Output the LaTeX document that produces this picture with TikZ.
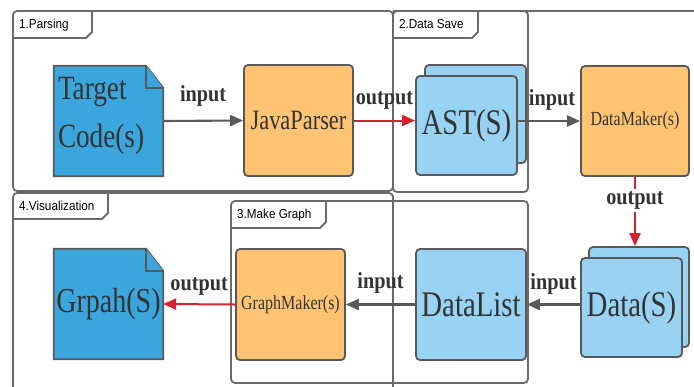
\documentclass[tikz,border=0pt]{standalone}
\usepackage{fontspec}
\usetikzlibrary{arrows.meta,calc,backgrounds}
\newfontfamily\condserif[FakeStretch=0.8]{Liberation Serif}
\newfontfamily\labelserif[FakeStretch=0.88]{Liberation Serif}
\newfontfamily\tabsans[FakeStretch=0.9]{Liberation Sans}
\definecolor{docblue}{HTML}{3AA6DD}
\definecolor{lightblue}{HTML}{99D3F3}
\definecolor{procorange}{HTML}{FFC473}
\definecolor{edgegray}{HTML}{595959}
\definecolor{framegray}{HTML}{6A6A6A}
\definecolor{flowred}{HTML}{D2232F}
\definecolor{inkgray}{HTML}{333333}
\tikzset{
  frame/.style={draw=framegray, line width=1.8pt, rounded corners=4pt},
  tabedge/.style={draw=framegray, line width=1.8pt},
  tabtext/.style={font=\tabsans\fontsize{13}{15}\selectfont, text=black, anchor=base west, inner sep=0pt},
  shapeline/.style={draw=edgegray, line width=1.8pt},
  docnode/.style={inner sep=0pt, minimum width=109pt, minimum height=110pt, text=inkgray},
  procbox/.style={shapeline, rounded corners=4pt, fill=procorange, inner sep=0pt,
    minimum width=109pt, minimum height=111pt, text=inkgray},
  databox/.style={shapeline, rounded corners=4pt, fill=lightblue, inner sep=0pt, text=inkgray},
  bigtext/.style={font=\condserif\fontsize{36}{40}\selectfont},
  midtext/.style={font=\condserif\fontsize{28}{32}\selectfont},
  smalltext/.style={font=\condserif\fontsize{20}{24}\selectfont},
  flow/.style={draw=edgegray, line width=2.1pt, -{Triangle[length=13pt,width=11pt]}},
  redflow/.style={draw=flowred, line width=2pt, -{Triangle[length=13pt,width=11pt]}},
  lbl/.style={font=\labelserif\bfseries\fontsize{23}{26}\selectfont, text=inkgray, anchor=base, inner sep=0pt},
}
\begin{document}
\begin{tikzpicture}[x=1pt, y=-1pt]
\useasboundingbox (0,0) rectangle (694,386);
\clip (0,0) rectangle (694,386);

% swimlane frames
\draw[frame] (13,11) rectangle (393,191);
\draw[tabedge] (393,11) -- (700,11);
\draw[frame] (393,11) rectangle (528,192);
\draw[frame] (13,193) rectangle (393,430);
\draw[frame] (231,201) rectangle (528,383);

% frame tabs
\draw[tabedge] (13,38) -- (86,38) -- (92,32) -- (92,11);
\draw[tabedge] (393,38) -- (472,38) -- (478,32) -- (478,11);
\draw[tabedge] (13,219) -- (102,219) -- (108,213) -- (108,193);
\draw[tabedge] (231,228) -- (320,228) -- (326,222) -- (326,201);
\node[tabtext] (t1) at (19,28) {1.Parsing};
\node[tabtext] (t2) at (399,28) {2.Data Save};
\node[tabtext] (t4) at (19,210) {4.Visualization};
\node[tabtext] (t3) at (237,218) {3.Make Graph};

% source code document
\node[docnode, bigtext, font=\condserif\fontsize{34}{48}\selectfont, align=left,
      text width=101pt] (tgt) at (108.5,121)
      {Target\\Code(s)\rule[-17pt]{0pt}{1pt}};
% graph document
\node[docnode, bigtext, font=\condserif\fontsize{35}{40}\selectfont] (graph) at (108.5,304) {Grpah(S)};
\begin{scope}[on background layer]
  \foreach \d in {tgt,graph}{
    \draw[shapeline, fill=docblue, line join=miter]
      (\d.north west) -- ([xshift=-17pt]\d.north east) -- ([yshift=-22pt]\d.north east)
      -- (\d.south east) -- (\d.south west) -- cycle;
    \draw[shapeline, fill=docblue, line join=miter]
      ([xshift=-17pt]\d.north east) -- ([xshift=-17pt,yshift=-22pt]\d.north east)
      -- ([yshift=-22pt]\d.north east);
  }
\end{scope}

% processing steps
\node[procbox, midtext] (jp) at (298.5,120.5) {JavaParser};
\node[procbox, smalltext, minimum width=108pt, minimum height=110pt] (dm) at (635,121) {DataMaker(s)};
\node[procbox, smalltext] (gm) at (290.5,304.5) {GraphMaker(s)};

% stacked data
\node[databox, minimum width=101pt, minimum height=98pt] (astback) at (475.5,114) {};
\node[databox, bigtext, minimum width=101pt, minimum height=99pt] (ast) at (466.5,125.5) {AST(S)};
\node[databox, minimum width=100pt, minimum height=100pt] (databack) at (639,297) {};
\node[databox, bigtext, minimum width=101pt, minimum height=99pt] (data) at (631.5,307.5) {Data(S)};
\node[databox, bigtext, minimum width=110pt, minimum height=111pt] (dl) at (471,304.5) {DataList};

% connectors
\draw[flow] (tgt.east) -- (jp.west)
  node[lbl, pos=0.5, yshift=19pt] (l1) {input};
\draw[redflow] (jp.east) -- (jp.east -| ast.west)
  node[lbl, pos=0.5, yshift=16pt] (l2) {output};
\draw[flow] (dm.west -| ast.east) -- (dm.west)
  node[lbl, pos=0.5, xshift=3pt, yshift=16pt] (l3) {input};
\draw[redflow] (dm.south) -- (dm.south |- databack.north)
  node[lbl, pos=0.34, anchor=center, fill=white, inner sep=3pt] (l4) {output};
\draw[flow] (data.west |- dl.east) -- (dl.east)
  node[lbl, pos=0.5, yshift=15pt] (l5) {input};
\draw[flow] (dl.west) -- (gm.east)
  node[lbl, pos=0.5, yshift=16pt] (l6) {input};
\draw[redflow] (gm.west) -- (graph.east)
  node[lbl, pos=0.5, yshift=14pt] (l7) {output};
\end{tikzpicture}
\end{document}
